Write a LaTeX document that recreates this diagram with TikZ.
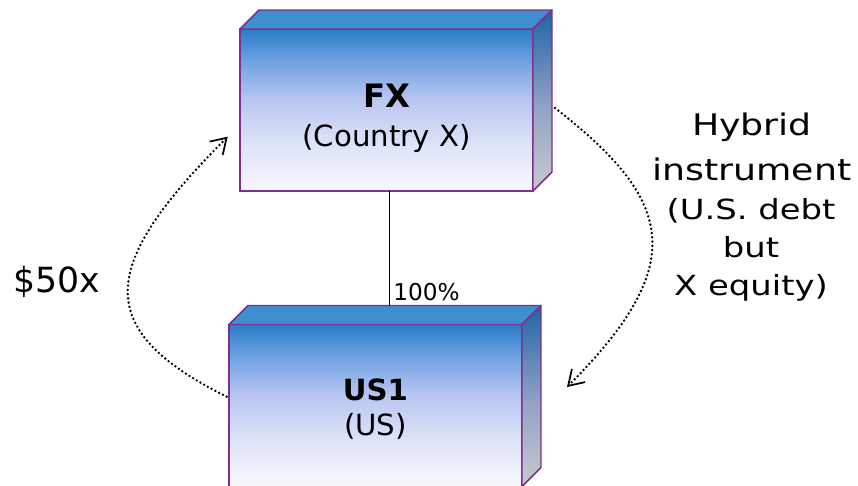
\documentclass[tikz,border=0pt]{standalone}
\usepackage{fontspec}
\setmainfont{DejaVu Sans}
\newfontfamily\widefont{DejaVu Sans}[FakeStretch=1.22]
\usetikzlibrary{arrows.meta,calc}
\definecolor{BoxEdge}{HTML}{7E3090}
\definecolor{FrontTop}{HTML}{2A7CC7}
\definecolor{FrontMid}{HTML}{6EA2E2}
\definecolor{FrontLav}{HTML}{BAC6F2}
\definecolor{FrontPale}{HTML}{DCE2F8}
\definecolor{FrontBottom}{HTML}{F8F8FE}
\definecolor{TopFace}{HTML}{3D8FD0}
\definecolor{SideTop}{HTML}{1E64A6}
\definecolor{SideMid}{HTML}{94A2C6}
\definecolor{SideBottom}{HTML}{C8CACC}
\pgfdeclareverticalshading{frontfill}{100bp}{color(0bp)=(FrontBottom); color(25bp)=(FrontBottom); color(40bp)=(FrontPale); color(53bp)=(FrontLav); color(65bp)=(FrontMid); color(75bp)=(FrontTop); color(100bp)=(FrontTop)}
\pgfdeclareverticalshading{sidefill}{100bp}{color(0bp)=(SideBottom); color(25bp)=(SideBottom); color(48bp)=(SideMid); color(75bp)=(SideTop); color(100bp)=(SideTop)}

\begin{document}
\begin{tikzpicture}[x=0.75pt,y=-0.75pt,
    face/.style={draw=BoxEdge, line width=1.1pt, shade, shading=frontfill,
      minimum width=219.75pt, minimum height=121.5pt, inner sep=0pt, outer sep=0pt},
    topface/.style={draw=BoxEdge, line width=1.1pt, fill=TopFace, line join=round},
    sideface/.style={draw=BoxEdge, line width=1.1pt, shade, shading=sidefill, line join=round},
    owns/.style={line width=0.75pt},
    flow/.style={line width=2pt, dash pattern=on 0pt off 3.2pt, line cap=round,
      -{Straight Barb[length=11pt,width=14pt,line width=1.3pt]}},
    every node/.style={inner sep=0pt}]
  \useasboundingbox (0,0) rectangle (858,486);

  % entities
  \node[face] (fx) at (386.5,110) {};
  \draw[topface] (fx.north west) -- ++(19,-19) -- ($(fx.north east)+(19,-19)$) -- (fx.north east) -- cycle;
  \draw[sideface] (fx.north east) -- ++(19,-19) -- ($(fx.south east)+(19,-19)$) -- (fx.south east) -- cycle;
  \node[anchor=base, font=\fontsize{24.2}{29}\selectfont\bfseries] (fxname) at ($(fx.center)+(0,-3)$) {FX};
  \node[anchor=base, font=\fontsize{21.9}{26}\selectfont] (fxcountry) at ($(fx.center)+(0,36.5)$) {(Country X)};

  \node[face] (us) at (375.5,405.5) {};
  \draw[topface] (us.north west) -- ++(19,-19) -- ($(us.north east)+(19,-19)$) -- (us.north east) -- cycle;
  \draw[sideface] (us.north east) -- ++(19,-19) -- ($(us.south east)+(19,-19)$) -- (us.south east) -- cycle;
  \node[anchor=base, font=\fontsize{21.9}{26}\selectfont\bfseries] (usname) at ($(us.center)+(0,-5.5)$) {US1};
  \node[anchor=base, font=\fontsize{21.9}{26}\selectfont] (uscountry) at ($(us.center)+(0,29.5)$) {(US)};

  % ownership
  \draw[owns] ($(fx.south)+(2.5,0)$) -- ($(us.north)+(13.5,-19)$);
  \node[anchor=base west, font=\fontsize{17.4}{21}\selectfont] (share) at (393,300) {100\%};

  % flows
  \draw[flow] ($(us.west)+(-2.3,-8.8)$) .. controls +(-135,-67.5) and +(-129.6,129.6) .. ($(fx.west)+(-12.3,26.7)$);
  \node[anchor=base, font=\fontsize{26}{31}\selectfont] (cash) at (56.5,292) {\$50x};

  \draw[flow] ($(fx.east)+(22,-2)$) .. controls +(117,91) and +(125,-125) .. ($(us.east)+(45,-18.5)$);
  \node[anchor=base, align=center, font=\widefont\fontsize{22.3}{33.75}\selectfont] (hybrid) at (752,180) {Hybrid\\instrument};
  \node[anchor=base, align=center, font=\widefont\fontsize{20.8}{28.5}\selectfont] (hybridnote) at (751,295) {(U.S. debt\\but\\X equity)};
\end{tikzpicture}
\end{document}
